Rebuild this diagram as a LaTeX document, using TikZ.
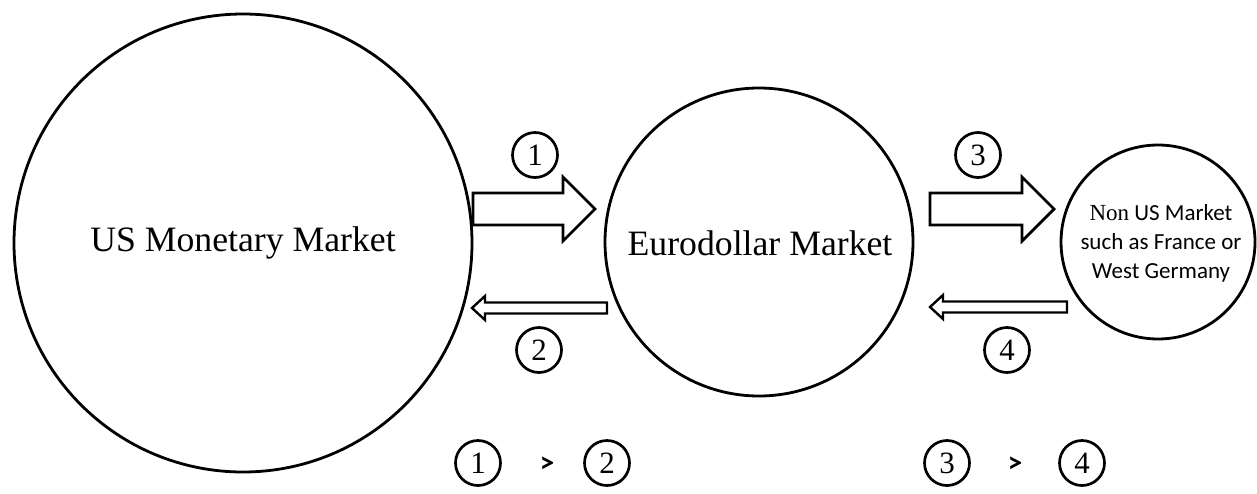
\documentclass[tikz,border=0pt]{standalone}
\usepackage{fontspec}
\setmainfont{Liberation Serif}
\newfontfamily\calib{Carlito}
\begin{document}
\begin{tikzpicture}[x=1pt,y=-1pt,
  market/.style={circle,draw,line width=2.8pt,inner sep=0pt},
  blockarrow/.style={draw,line width=2.8pt,line join=miter,fill=white},
  num/.style={circle,draw,line width=2.7pt,minimum size=45pt,inner sep=0pt,font=\fontsize{31}{31}\selectfont},
  gt/.style={font=\calib\bfseries\fontsize{29}{29}\selectfont}]
\useasboundingbox (0,0) rectangle (1257,493);
\node[market,minimum size=458pt] (us) at (243,243) {};
\node at (243,243) (ust) {\fontsize{35.7}{40}\selectfont US Monetary Market};
\node[market,minimum size=308pt] (euro) at (759,242) {};
\node at (760,243) (eurot) {\fontsize{35.7}{40}\selectfont Eurodollar Market};
\node[market,minimum size=194pt] (non) at (1158,242) {};
\node[align=center,font=\calib\fontsize{23}{29}\selectfont] at (1161,243) (nont)
  {{\rmfamily Non} US Market\\such as France or\\West Germany};
% arrow 1 (US -> Euro)
\draw[blockarrow] (473,193) -- (563,193) -- (563,177) -- (595,209) -- (563,241) -- (563,225) -- (473,225) -- cycle;
% arrow 2 (Euro -> US)
\draw[blockarrow,line width=2.4pt] (607,302.5) -- (485,302.5) -- (485,296) -- (472,308) -- (485,320) -- (485,313.5) -- (607,313.5) -- cycle;
% arrow 3 (Euro -> Non US)
\draw[blockarrow] (930,193) -- (1022,193) -- (1022,177) -- (1054,209) -- (1022,241) -- (1022,225) -- (930,225) -- cycle;
% arrow 4 (Non US -> Euro)
\draw[blockarrow,line width=2.4pt] (1067,301.5) -- (943,301.5) -- (943,295) -- (930,307) -- (943,319) -- (943,312.5) -- (1067,312.5) -- cycle;
% labels
\node[num] (n1) at (535,155) {1};
\node[num] (n2) at (539,350) {2};
\node[num] (n3) at (978,155) {3};
\node[num] (n4) at (1007,350) {4};
\node[num] (b1) at (478,463) {1};
\node[gt] (g1) at (547,465) {>};
\node[num] (b2) at (607,463) {2};
\node[num] (b3) at (947,463) {3};
\node[gt] (g2) at (1015,465) {>};
\node[num] (b4) at (1082,463) {4};
\end{tikzpicture}
\end{document}
